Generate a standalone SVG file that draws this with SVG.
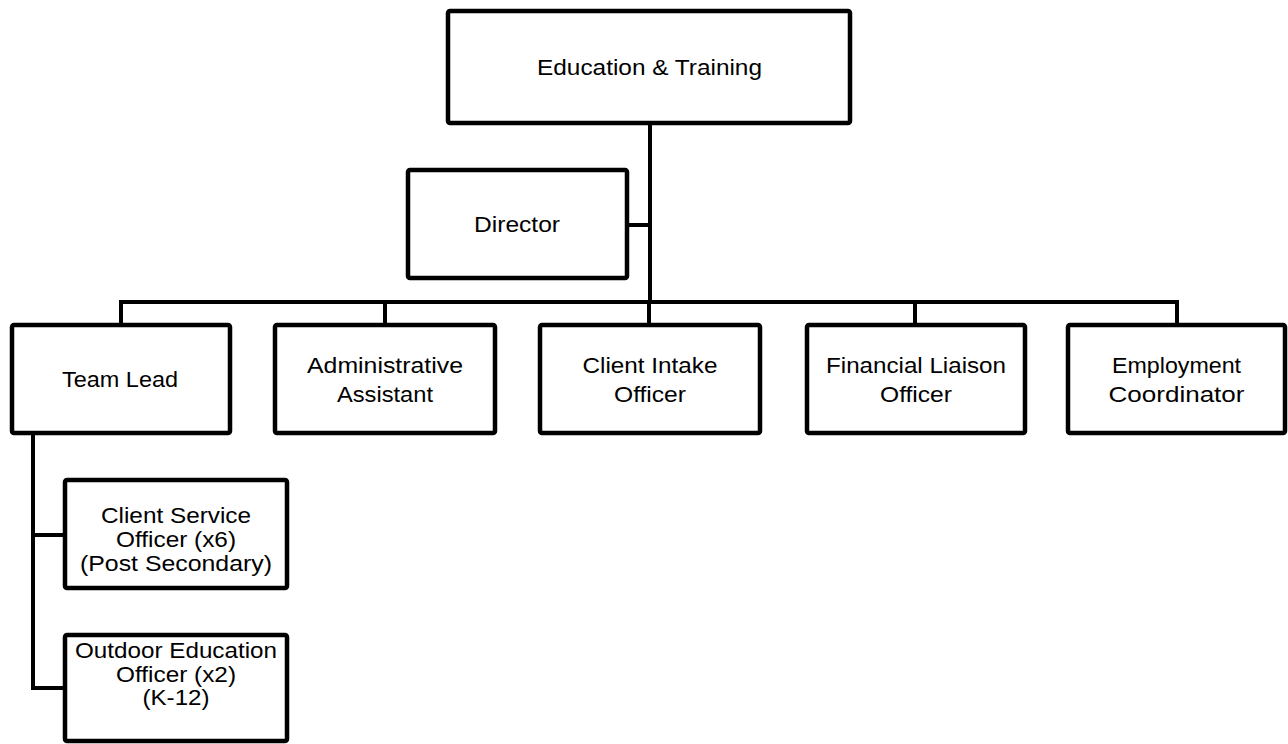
<svg xmlns="http://www.w3.org/2000/svg" width="1288" height="744" viewBox="0 0 1288 744">
<style>
.box{fill:#fff;stroke:#000;stroke-width:4.5;stroke-linejoin:round}
.ln{fill:none;stroke:#000;stroke-width:4;stroke-linejoin:miter}
text{font-family:"Liberation Sans",Arial,sans-serif;font-size:22px;fill:#000;text-anchor:middle}
</style>
<rect width="1288" height="744" fill="#fff"/>
<g id="connectors">
<path class="ln" d="M650,123 V302"/>
<path class="ln" d="M627,225 H650"/>
<path class="ln" d="M121,325 V302 H1177 V325"/>
<path class="ln" d="M385,302 V325"/>
<path class="ln" d="M649,302 V325"/>
<path class="ln" d="M915,302 V325"/>
<path class="ln" d="M33,433 V688 H65"/>
<path class="ln" d="M33,535 H65"/>
</g>
<g id="education-training">
<rect class="box" x="448" y="11" width="402" height="112" rx="2"/>
<text x="649.5" y="75" textLength="225" lengthAdjust="spacingAndGlyphs">Education &amp; Training</text>
</g>
<g id="director">
<rect class="box" x="408" y="170" width="219" height="108" rx="2"/>
<text x="517" y="232" textLength="86" lengthAdjust="spacingAndGlyphs">Director</text>
</g>
<g id="team-lead">
<rect class="box" x="12" y="325" width="218" height="108" rx="2"/>
<text x="120" y="387" textLength="116" lengthAdjust="spacingAndGlyphs">Team Lead</text>
</g>
<g id="administrative-assistant">
<rect class="box" x="275" y="325" width="220" height="108" rx="2"/>
<text x="385" y="373" textLength="156" lengthAdjust="spacingAndGlyphs">Administrative</text>
<text x="385" y="402" textLength="96" lengthAdjust="spacingAndGlyphs">Assistant</text>
</g>
<g id="client-intake-officer">
<rect class="box" x="540" y="325" width="220" height="108" rx="2"/>
<text x="650" y="373" textLength="135" lengthAdjust="spacingAndGlyphs">Client Intake</text>
<text x="650" y="402" textLength="72" lengthAdjust="spacingAndGlyphs">Officer</text>
</g>
<g id="financial-liaison-officer">
<rect class="box" x="807" y="325" width="218" height="108" rx="2"/>
<text x="916" y="373" textLength="180" lengthAdjust="spacingAndGlyphs">Financial Liaison</text>
<text x="916" y="402" textLength="72" lengthAdjust="spacingAndGlyphs">Officer</text>
</g>
<g id="employment-coordinator">
<rect class="box" x="1068" y="325" width="217" height="108" rx="2"/>
<text x="1176.5" y="373" textLength="129" lengthAdjust="spacingAndGlyphs">Employment</text>
<text x="1176.5" y="402" textLength="136" lengthAdjust="spacingAndGlyphs">Coordinator</text>
</g>
<g id="client-service-officer">
<rect class="box" x="65" y="480" width="222" height="108" rx="2"/>
<text x="176" y="523" textLength="150" lengthAdjust="spacingAndGlyphs">Client Service</text>
<text x="176" y="547" textLength="120" lengthAdjust="spacingAndGlyphs">Officer (x6)</text>
<text x="176" y="571" textLength="192" lengthAdjust="spacingAndGlyphs">(Post Secondary)</text>
</g>
<g id="outdoor-education-officer">
<rect class="box" x="65" y="635" width="222" height="106" rx="2"/>
<text x="176" y="658" textLength="202" lengthAdjust="spacingAndGlyphs">Outdoor Education</text>
<text x="176" y="682" textLength="120" lengthAdjust="spacingAndGlyphs">Officer (x2)</text>
<text x="176" y="705" textLength="67" lengthAdjust="spacingAndGlyphs">(K-12)</text>
</g>
</svg>
